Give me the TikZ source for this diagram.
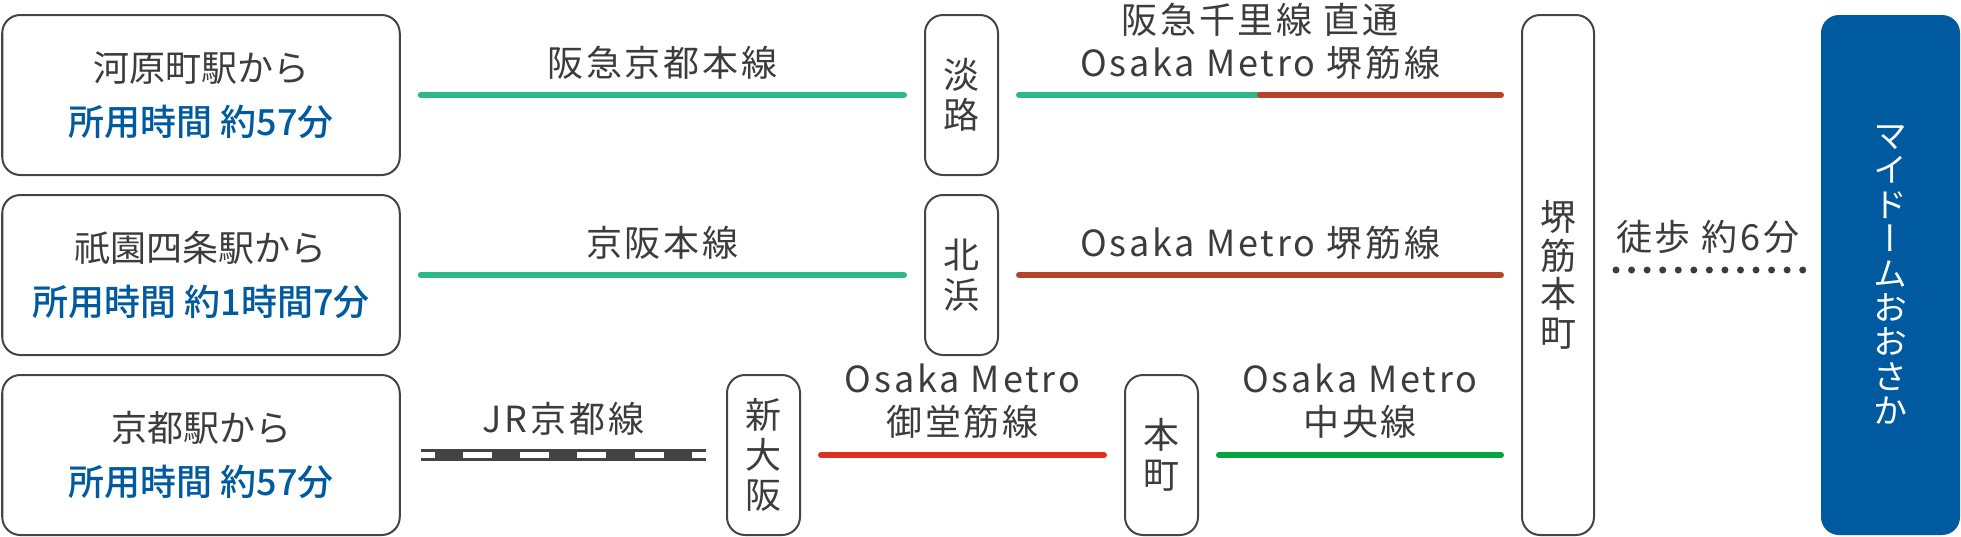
\documentclass[tikz,border=0pt]{standalone}
\usepackage{fontspec}
\setmainfont{Noto Sans CJK JP}
\newfontfamily\vertfont[RawFeature=+vert]{Noto Sans CJK JP}
\newfontfamily\espaciada[LetterSpace=8]{Noto Sans CJK JP}
\newfontfamily\medio{Noto Sans CJK JP Medium}
\usepackage{tikz}
\usetikzlibrary{calc,positioning}
\usepackage{xcolor}
\definecolor{textgris}{HTML}{3C3C3C}
\definecolor{bordegris}{HTML}{444444}
\definecolor{azul}{HTML}{005A9F}
\definecolor{verdehankyu}{HTML}{2EB886}
\definecolor{marron}{HTML}{B5442A}
\definecolor{rojo}{HTML}{E0301E}
\definecolor{verdechuo}{HTML}{05A33E}

\tikzset{
  origen/.style={draw=bordegris, line width=1pt, rounded corners=9pt,
    minimum width=198.75pt, minimum height=80pt, align=center,
    text=textgris, font=\fontsize{18}{27}\selectfont,
    execute at begin node=\rule{0pt}{20pt}},
  estacion/.style={draw=bordegris, line width=1pt, rounded corners=9pt,
    minimum width=36.5pt, minimum height=80pt, inner sep=0pt, align=center,
    text=textgris, font=\fontsize{18}{20}\selectfont},
  etiqueta/.style={text=textgris, align=center,
    font=\espaciada\fontsize{18}{21.5}\selectfont},
  linea/.style={line width=3pt, line cap=round, shorten <=10pt, shorten >=10pt},
  hankyu/.style={linea, verdehankyu},
  sakaisen/.style={linea, marron},
  midosuji/.style={linea, rojo},
  chuo/.style={linea, verdechuo},
  jrbase/.style={line width=6pt, bordegris, shorten <=10pt, shorten >=10pt},
  jrblanco/.style={line width=3pt, white, shorten <=10pt, shorten >=10pt,
    dash pattern=on 14.5pt off 14.1pt, dash phase=7.5pt},
  pasos/.style={line width=3.5pt, textgris, line cap=round,
    dash pattern=on 0pt off 7.78pt, shorten <=10.5pt, shorten >=8pt}
}

\begin{document}
\begin{tikzpicture}[x=0.5pt, y=-0.5pt]
\useasboundingbox (0,0) rectangle (1961,536);

% estaciones de origen
\node[origen] (kawaramachi) at (201,95) {河原町駅から\\{\color{azul}\medio 所用時間 約57分}};
\node[origen] (gion) at (201,275) {祇園四条駅から\\{\color{azul}\medio 所用時間 約1時間7分}};
\node[origen] (kyoto) at (201,455) {京都駅から\\{\color{azul}\medio 所用時間 約57分}};

% estaciones de trasbordo
\node[estacion] (awaji) at (961.5,95) {淡\\路};
\node[estacion] (kitahama) at (961.5,275) {北\\浜};
\node[estacion] (shinosaka) at (763.5,455) {新\\大\\阪};
\node[estacion] (honmachi) at (1161.5,455) {本\\町};
\node[estacion, minimum width=36pt, minimum height=260pt,
  font=\fontsize{18}{19.25}\selectfont] (sakaisuji) at (1558,275) {堺\\筋\\本\\町};

% destino
\node[fill=azul, rounded corners=9pt, minimum width=69.5pt, minimum height=260pt,
  inner sep=0pt, align=center, text=white, font=\vertfont\fontsize{17}{17.2}\selectfont]
  (domo) at (1890.5,275) {マ\\イ\\ド\\ー\\ム\\お\\お\\さ\\か};

%====================================================
% fila 1
%====================================================
\draw[hankyu] (kawaramachi) -- (awaji)
  node[midway, yshift=16pt, etiqueta] {阪急京都本線};
\coordinate (fin1) at (awaji.east -| sakaisuji.west);
\coordinate (medio1) at ($(awaji.east)!0.5!(fin1)$);
\draw[hankyu, shorten >=0pt] (awaji.east) -- (medio1);
\draw[sakaisen, shorten <=0pt] (medio1) -- (fin1);
\path (awaji.east) -- (fin1)
  node[midway, yshift=27pt, etiqueta] {阪急千里線 直通\\Osaka Metro 堺筋線};

%====================================================
% fila 2
%====================================================
\draw[hankyu] (gion) -- (kitahama)
  node[midway, yshift=16pt, etiqueta] {京阪本線};
\draw[sakaisen] (kitahama.east) -- (kitahama.east -| sakaisuji.west)
  node[midway, yshift=16pt, etiqueta] {Osaka Metro 堺筋線};

%====================================================
% fila 3
%====================================================
\draw[jrbase] (kyoto) -- (shinosaka)
  node[midway, yshift=18pt, etiqueta] {JR京都線};
\draw[jrblanco] (kyoto) -- (shinosaka);
\draw[midosuji] (shinosaka) -- (honmachi)
  node[midway, yshift=27pt, etiqueta] {Osaka Metro\\御堂筋線};
\draw[chuo] (honmachi.east) -- (honmachi.east -| sakaisuji.west)
  node[midway, yshift=27pt, etiqueta] {Osaka Metro\\中央線};

% a pie
\draw[pasos] ([yshift=2.5pt]sakaisuji.east) -- ([yshift=2.5pt]domo.west)
  node[midway, yshift=16.5pt, etiqueta] {徒歩 約6分};
\end{tikzpicture}
\end{document}
